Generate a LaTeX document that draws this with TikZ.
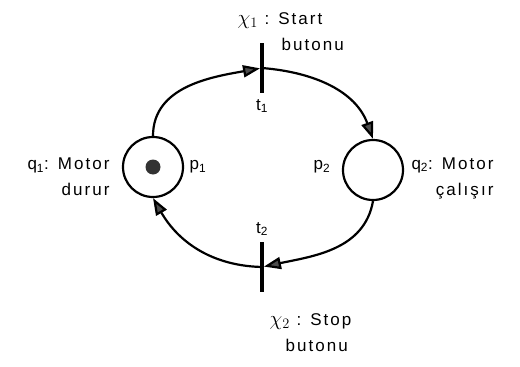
\documentclass[tikz,border=0pt]{standalone}
\usepackage{fontspec}
\setmainfont[LetterSpace=12]{Liberation Sans}
\usepackage{tikz}
\usetikzlibrary{arrows.meta}

\begin{document}
\begin{tikzpicture}[x=1pt,y=1pt,
  font=\fontsize{17}{26}\selectfont,
  place/.style={draw,circle,line width=2.2pt,minimum size=60pt,inner sep=0pt},
  trans/.style={fill=black,inner sep=0pt,minimum width=3.5pt,minimum height=50pt},
  tok/.style={fill=black!80,circle,inner sep=0pt,minimum size=15pt},
  arc/.style={line width=2.2pt,-{Triangle[length=17pt,width=12pt,fill=black!70]}}]
\useasboundingbox (0,0) rectangle (520,-367);
\node[place] (p1) at (153,-167) {};
\node[tok] (m1) at (p1.center) {};
\node[place] (p2) at (373,-170) {};
\node[trans] (t1) at (262,-68) {};
\node[trans] (t2) at (262,-267) {};
\node (lp1) at (198,-167) {p\textsubscript{1}};
\node (lp2) at (322,-167) {p\textsubscript{2}};
\node (lt1) at (262,-106) {t\textsubscript{1}};
\node (lt2) at (262,-229) {t\textsubscript{2}};
\node[anchor=east,align=right] (q1) at (113,-177) {q\textsubscript{1}: Motor\\durur};
\node[anchor=west,align=right] (q2) at (408,-178) {q\textsubscript{2}: Motor\\çalışır};
\node[anchor=west,align=left] (x1) at (234,-32)
  {{\fontsize{22}{26}\selectfont$\chi_1$} : Start\\\hspace*{44pt}butonu};
\node[anchor=west,align=left] (x2) at (266,-333)
  {{\fontsize{22}{26}\selectfont$\chi_2$} : Stop\\\hspace*{16pt}butonu};
\draw[arc] (p1.north) to[out=90,in=190] (t1);
\draw[arc] (t1) to[out=-5,in=110] (p2.north);
\draw[arc] (p2.south) to[out=-100,in=12] (t2);
\draw[arc] (t2) to[out=178,in=-60] (p1.south);
\end{tikzpicture}
\end{document}
